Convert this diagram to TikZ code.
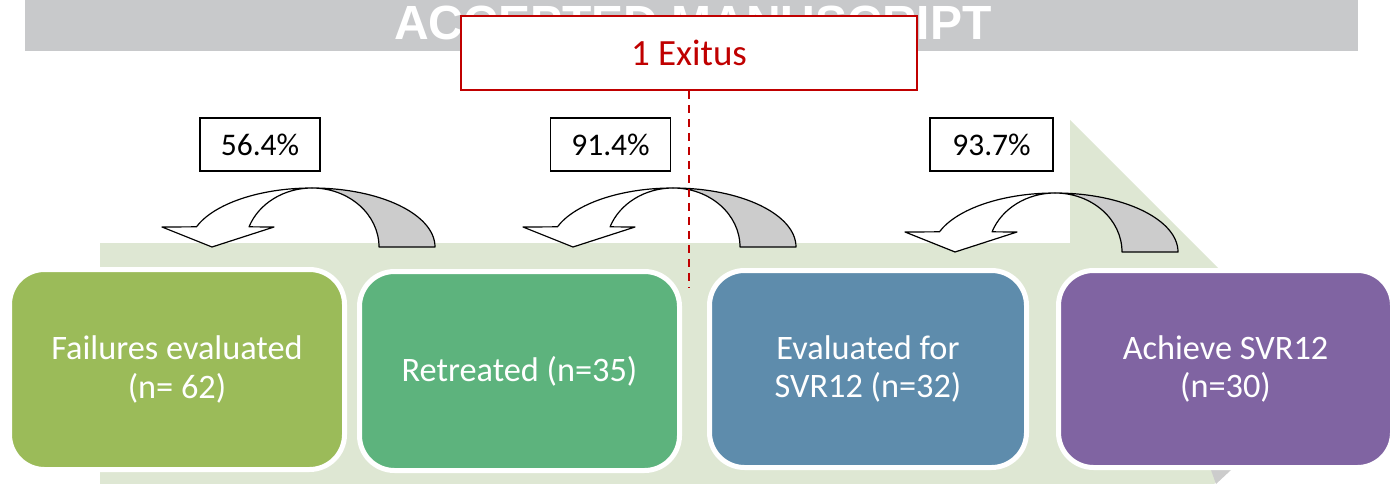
\documentclass[tikz,border=0pt]{standalone}
\usepackage{fontspec}
\setmainfont{Carlito}
\newfontfamily\bannerfont{Liberation Sans}
\definecolor{bannergray}{RGB}{200,201,203}
\definecolor{bgarrow}{RGB}{222,231,211}
\definecolor{arrgray}{RGB}{204,204,204}
\definecolor{exred}{RGB}{192,0,0}
\definecolor{cone}{RGB}{155,187,89}
\definecolor{ctwo}{RGB}{93,179,125}
\definecolor{cthree}{RGB}{94,140,172}
\definecolor{cfour}{RGB}{128,100,162}
\newcommand\uturnarrow[1]{%
\begin{scope}[shift={#1}]
 \filldraw[arrline, fill=arrgray] (123,0) arc[start angle=0,end angle=90,x radius=123pt,y radius=59pt] arc[start angle=90,end angle=0,x radius=67pt,y radius=59pt] -- cycle;
 \filldraw[arrline, fill=white] (0,-59) arc[start angle=90,end angle=160,x radius=123pt,y radius=59pt] -- (-150,-20) -- (-100,0) -- (-38,-20) -- ({67*cos(160)},{-59*sin(160)}) arc[start angle=160,end angle=90,x radius=67pt,y radius=59pt] -- cycle;
\end{scope}}
\begin{document}
\begin{tikzpicture}[x=1pt,y=-1pt,
  stagebox/.style={rectangle, rounded corners=35pt, draw=white, line width=5pt, text=white, align=center, font=\fontsize{34.3}{38.5}\selectfont, inner sep=0pt},
  pctbox/.style={rectangle, draw=black, line width=1.3pt, fill=white, minimum width=120pt, minimum height=53pt, font=\fontsize{31.5}{36}\selectfont, inner sep=0pt},
  arrline/.style={draw=black, line width=1.2pt, line join=round}]
\useasboundingbox (0,0) rectangle (1399,484);
\begin{scope}
\clip (0,0) rectangle (1399,484);
% banner
\node[fill=bannergray, minimum width=1333pt, minimum height=51pt, inner sep=0pt, anchor=north west] (banner) at (25,0) {};
\node[font=\bannerfont\bfseries\fontsize{48}{48}\selectfont, text=white, anchor=base, inner sep=0pt] (bannertext) at (693,40) {ACCEPTED MANUSCRIPT};
% big background arrow
\fill[bgarrow] (100,243) -- (1070,243) -- (1070,120) -- (1324,374) -- (1214,484) -- (100,484) -- cycle;
\fill[arrgray] (1211,470) -- (1231,470) -- (1216,484) -- cycle;
% curved arrows
\uturnarrow{(312,247)}
\uturnarrow{(673,247)}
\uturnarrow{(1055,252)}
% percentage boxes
\node[pctbox] (p1) at (260,144.5) {56.4\%};
\node[pctbox] (p2) at (610.5,144.5) {91.4\%};
\node[pctbox, minimum width=123pt] (p3) at (991.5,144.5) {93.7\%};
% stage boxes
\node[stagebox, fill=cone, minimum width=335pt, minimum height=200pt] (b1) at (177,369.5) {Failures evaluated\\(n= 62)};
\node[stagebox, fill=ctwo, minimum width=320pt, minimum height=199pt] (b2) at (519.5,371) {Retreated (n=35)};
\node[stagebox, fill=cthree, minimum width=317pt, minimum height=197pt] (b3) at (868,369) {Evaluated for\\SVR12 (n=32)};
\node[stagebox, fill=cfour, minimum width=334pt, minimum height=197pt] (b4) at (1225.5,369) {Achieve SVR12\\(n=30)};
% exitus
\node[draw=exred, line width=1.6pt, fill=white, minimum width=456pt, minimum height=74pt, inner sep=0pt, text=exred, font=\fontsize{37}{40}\selectfont] (exitus) at (689,53) {1 Exitus};
\coordinate (dashend) at (689,287);
\draw[exred, line width=1.5pt, dash pattern=on 8pt off 6pt] (exitus.south) -- (dashend);
\end{scope}
\end{tikzpicture}
\end{document}
